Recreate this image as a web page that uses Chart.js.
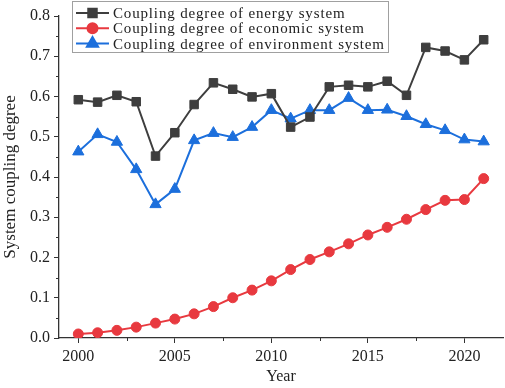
<!DOCTYPE html>
<html>
<head>
<meta charset="utf-8">
<script src="https://cdn.jsdelivr.net/npm/chart.js@4.4.1/dist/chart.umd.min.js"></script>
<style>
html, body { margin: 0; padding: 0; background: #fff; }
#wrap { width: 505px; height: 388px; }
</style>
</head>
<body>
<div id="wrap"><canvas id="myChart" width="505" height="388"></canvas></div>
<script>
// data
const years = [2000, 2001, 2002, 2003, 2004, 2005, 2006, 2007, 2008, 2009, 2010,
               2011, 2012, 2013, 2014, 2015, 2016, 2017, 2018, 2019, 2020, 2021];
const energyDegree = [0.592, 0.586, 0.603, 0.587, 0.452, 0.510, 0.580, 0.634, 0.618, 0.599, 0.607,
                      0.524, 0.549, 0.624, 0.628, 0.624, 0.638, 0.603, 0.722, 0.713, 0.691, 0.741];
const economicDegree = [0.010, 0.013, 0.019, 0.027, 0.037, 0.047, 0.060, 0.078, 0.100, 0.119, 0.142,
                        0.170, 0.195, 0.214, 0.234, 0.256, 0.275, 0.295, 0.319, 0.342, 0.344, 0.396];
const environmentDegree = [0.463, 0.506, 0.487, 0.419, 0.332, 0.370, 0.491, 0.509, 0.499, 0.524, 0.566,
                           0.545, 0.566, 0.566, 0.596, 0.566, 0.567, 0.551, 0.531, 0.516, 0.493, 0.488];
const seriesLabels = [
    'Coupling degree of energy system',
    'Coupling degree of economic system',
    'Coupling degree of environment system'
];
const yearTicks = [2000, 2005, 2010, 2015, 2020];
const yearMinorTicks = [2002.5, 2007.5, 2012.5, 2017.5];
const degreeTicks = [0, 0.1, 0.2, 0.3, 0.4, 0.5, 0.6, 0.7, 0.8];
const degreeMinorTicks = [0.05, 0.15, 0.25, 0.35, 0.45, 0.55, 0.65, 0.75];

const FONT = "'Liberation Serif', 'DejaVu Serif', serif";
const AXIS = '#333333';

function toPoints(values) {
    return years.map((yr, i) => ({ x: yr, y: values[i] }));
}

// small outward minor ticks, like the original plot
const minorTicks = {
    id: 'minorTicks',
    afterDraw(chart) {
        const { ctx, chartArea, scales } = chart;
        ctx.save();
        ctx.strokeStyle = AXIS;
        ctx.lineWidth = 1;
        ctx.beginPath();
        yearMinorTicks.forEach(v => {
            const px = Math.round(scales.x.getPixelForValue(v)) + 0.5;
            ctx.moveTo(px, chartArea.bottom);
            ctx.lineTo(px, chartArea.bottom + 3);
        });
        degreeMinorTicks.forEach(v => {
            const py = Math.round(scales.y.getPixelForValue(v)) + 0.5;
            ctx.moveTo(chartArea.left, py);
            ctx.lineTo(chartArea.left - 3, py);
        });
        ctx.stroke();
        ctx.restore();
    }
};

// boxed legend with line + marker samples
const lineLegend = {
    id: 'lineLegend',
    afterDraw(chart) {
        const ctx = chart.ctx;
        const box = { x: 72.5, y: 1.5, w: 316, h: 51 };
        ctx.save();
        ctx.fillStyle = '#fff';
        ctx.fillRect(box.x, box.y, box.w, box.h);
        ctx.strokeStyle = '#a0a0a0';
        ctx.lineWidth = 1;
        ctx.strokeRect(box.x, box.y, box.w, box.h);

        ctx.font = '15px ' + FONT;
        ctx.textBaseline = 'middle';
        // stretch the serif text to the width of the original legend
        const longest = seriesLabels[2];
        const natural = ctx.measureText(longest).width;
        ctx.letterSpacing = ((272 - natural) / longest.length).toFixed(2) + 'px';

        chart.data.datasets.forEach((ds, i) => {
            const y = 13 + i * 15.3;
            ctx.strokeStyle = ds.borderColor;
            ctx.lineWidth = 2;
            ctx.beginPath();
            ctx.moveTo(76, y);
            ctx.lineTo(109, y);
            ctx.stroke();
            ctx.fillStyle = ds.backgroundColor;
            Chart.helpers.drawPoint(ctx, {
                pointStyle: ds.pointStyle,
                radius: ds.pointRadius,
                rotation: 0,
                borderWidth: 1
            }, 92.5, y);
            ctx.fillStyle = '#222';
            ctx.fillText(ds.label, 113, y + 1);
        });
        ctx.restore();
    }
};

const ctx = document.getElementById('myChart').getContext('2d');
const myChart = new Chart(ctx, {
    type: 'line',
    data: {
        datasets: [{
            label: seriesLabels[0],
            data: toPoints(energyDegree),
            borderColor: '#3e3e3e',
            backgroundColor: '#3e3e3e',
            pointStyle: 'rect',
            pointRadius: 6,
            borderWidth: 2
        }, {
            label: seriesLabels[1],
            data: toPoints(economicDegree),
            borderColor: '#e8393f',
            backgroundColor: '#e8393f',
            pointStyle: 'circle',
            pointRadius: 5,
            borderWidth: 2
        }, {
            label: seriesLabels[2],
            data: toPoints(environmentDegree),
            borderColor: '#1c6fdc',
            backgroundColor: '#1c6fdc',
            pointStyle: 'triangle',
            pointRadius: 6.5,
            borderWidth: 2
        }]
    },
    options: {
        responsive: false,
        animation: false,
        layout: { autoPadding: false, padding: { top: 16, right: 2, left: 0, bottom: 0 } },
        plugins: {
            legend: { display: false },
            tooltip: { enabled: false }
        },
        elements: {
            line: { tension: 0 },
            point: { pointBorderWidth: 1 }
        },
        scales: {
            x: {
                type: 'linear',
                min: 1999,
                max: 2022,
                afterBuildTicks: scale => { scale.ticks = yearTicks.map(v => ({ value: v })); },
                afterFit: scale => { scale.height = 50; },
                grid: { drawOnChartArea: false, tickLength: 5, color: AXIS, tickWidth: 1 },
                border: { display: true, color: AXIS, width: 1.3 },
                ticks: {
                    font: { family: FONT, size: 16 },
                    color: '#222',
                    padding: 4,
                    maxRotation: 0,
                    callback: v => String(v)
                },
                title: {
                    display: true,
                    text: 'Year',
                    font: { family: FONT, size: 16 },
                    color: '#222',
                    padding: { top: 0, bottom: 2 }
                }
            },
            y: {
                min: 0,
                max: 0.8,
                afterBuildTicks: scale => { scale.ticks = degreeTicks.map(v => ({ value: v })); },
                afterFit: scale => { scale.width = 59; },
                grid: { drawOnChartArea: false, tickLength: 5, color: AXIS, tickWidth: 1 },
                border: { display: true, color: AXIS, width: 1.3 },
                ticks: {
                    font: { family: FONT, size: 16 },
                    color: '#222',
                    padding: 4,
                    callback: v => Number(v).toFixed(1)
                },
                title: {
                    display: true,
                    text: 'System coupling degree',
                    font: { family: FONT, size: 17 },
                    color: '#222',
                    padding: { top: 0, bottom: 2 }
                }
            }
        }
    },
    plugins: [minorTicks, lineLegend]
});
</script>
</body>
</html>
